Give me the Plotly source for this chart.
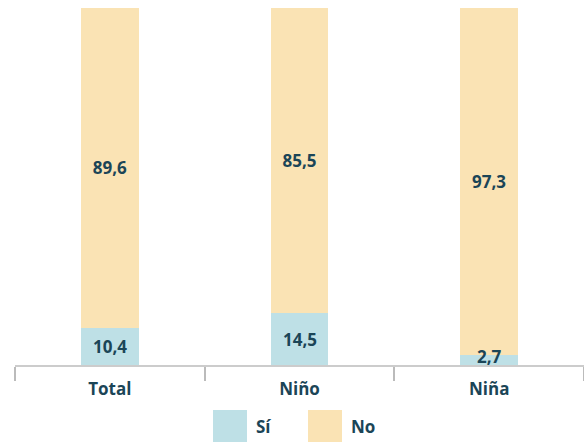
import plotly.graph_objects as go

categories = ["Total", "Niño", "Niña"]
si_values = [10.4, 14.5, 2.7]
no_values = [89.6, 85.5, 97.3]
series_names = ["Sí", "No"]

SI_COLOR = "#BEE0E6"
NO_COLOR = "#FAE3B4"
TEXT_COLOR = "#1B4557"
FONT = "'Open Sans', sans-serif"
FS = 17
MIN_LABEL_Y = 2.4  # keep small-bar labels just above the axis line

def fmt(v):
    return f"{v:.1f}".replace(".", ",")

fig = go.Figure()
fig.add_trace(go.Bar(
    x=categories, y=si_values, name=series_names[0],
    marker=dict(color=SI_COLOR, line=dict(width=0)),
    width=0.305, showlegend=False, hoverinfo="skip",
))
fig.add_trace(go.Bar(
    x=categories, y=no_values, name=series_names[1],
    marker=dict(color=NO_COLOR, line=dict(width=0)),
    text=[fmt(v) for v in no_values], textposition="inside",
    insidetextanchor="middle", textangle=0,
    textfont=dict(color=TEXT_COLOR, size=FS, family=FONT, weight="bold"),
    width=0.305, showlegend=False, hoverinfo="skip",
))

# value labels for the small "Sí" segments
for cat, v in zip(categories, si_values):
    fig.add_annotation(x=cat, y=max(v / 2, MIN_LABEL_Y), text=f"<b>{fmt(v)}</b>",
                       showarrow=False, xanchor="center", yanchor="middle",
                       font=dict(color=TEXT_COLOR, size=FS, family=FONT))

# custom legend with large swatches
legend_items = [(series_names[0], SI_COLOR, 213), (series_names[1], NO_COLOR, 308)]
W, H = 584, 442
PL, PT, PW, PH = 15, 8, 569, 357
for name, color, x0 in legend_items:
    fig.add_shape(type="rect", xref="paper", yref="paper",
                  x0=(x0 - PL) / PW, x1=(x0 + 34 - PL) / PW,
                  y0=-(410 - PT - PH) / PH, y1=-(444 - PT - PH) / PH,
                  fillcolor=color, line=dict(width=0), layer="above")
    fig.add_annotation(text=f"<b>{name}</b>", xref="paper", yref="paper",
                       x=(x0 + 41 - PL) / PW, y=-(426 - PT - PH) / PH,
                       xanchor="left", yanchor="middle", showarrow=False,
                       font=dict(color=TEXT_COLOR, size=FS, family=FONT))

fig.update_layout(
    barmode="stack",
    width=W, height=H,
    margin=dict(l=PL, r=W - PL - PW, t=PT, b=H - PT - PH, autoexpand=False),
    paper_bgcolor="white", plot_bgcolor="white",
    font=dict(family=FONT, color=TEXT_COLOR),
    hovermode=False,
)
fig.update_xaxes(
    showline=True, linecolor="#CCCCCC", linewidth=2,
    ticks="outside", tickson="boundaries", ticklen=14, tickcolor="#BBBBBB", tickwidth=2,
    tickfont=dict(size=FS, color=TEXT_COLOR, family=FONT, weight="bold"),
    ticklabelstandoff=8,
    showgrid=False,
)
fig.update_yaxes(range=[0, 100], visible=False, showgrid=False)

fig.write_html("out.html", config={"displayModeBar": False},
               post_script="document.body.style.margin='0';document.body.style.overflow='hidden';")
